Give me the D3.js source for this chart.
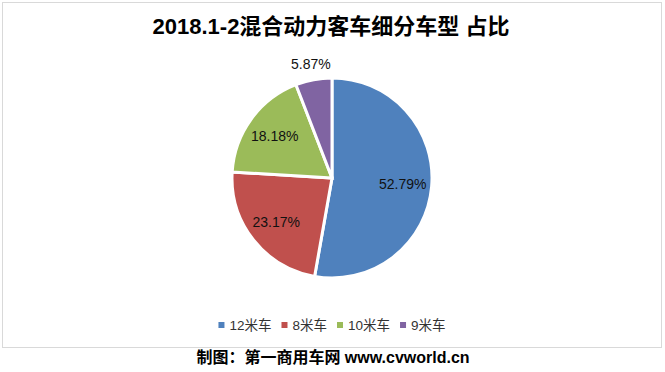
<!DOCTYPE html>
<html>
<head>
<meta charset="utf-8">
<script src="https://cdn.jsdelivr.net/npm/d3@7"></script>
<style>
  body { margin: 0; background: #fff; }
  svg { display: block; }
</style>
</head>
<body>
<div id="chart"></div>
<script>
// 2018.1-2 hybrid bus share by length

var categories = ['12米车', '8米车', '10米车', '9米车'];
var shares = [52.79, 23.17, 18.18, 5.87];
var colors = ['#4F81BD', '#C0504D', '#9BBB59', '#8064A2'];

var width = 665, height = 372;
var cx = 332, cy = 178, radius = 100;

var svg = d3.select("#chart")
  .append("svg")
    .attr("width", width)
    .attr("height", height);

// frame round the chart area
svg.append("rect")
  .attr("x", 2.5)
  .attr("y", 2.5)
  .attr("width", 659)
  .attr("height", 345)
  .attr("fill", "#fff")
  .attr("stroke", "#d9d9d9")
  .attr("stroke-width", 1);

svg.append("text")
  .attr("x", 331)
  .attr("y", 34)
  .attr("text-anchor", "middle")
  .style("font-family", "'Liberation Sans', 'Noto Sans CJK SC', sans-serif")
  .style("font-size", "22px")
  .style("font-weight", "bold")
  .attr("fill", "#000")
  .text("2018.1-2混合动力客车细分车型 占比");

var pie = d3.pie()
  .sort(null)
  .value(function(d) { return d; });

var arcs = pie(shares);

var arc = d3.arc()
  .innerRadius(0)
  .outerRadius(radius);

var labelArc = d3.arc()
  .innerRadius(radius * 0.71)
  .outerRadius(radius * 0.71);

var outerArc = d3.arc()
  .innerRadius(radius * 1.155)
  .outerRadius(radius * 1.155);

var g = svg.append("g")
  .attr("transform", "translate(" + cx + "," + cy + ")");

g.selectAll("path")
  .data(arcs)
  .enter()
  .append("path")
    .attr("d", arc)
    .attr("fill", function(d, i) { return colors[i]; })
    .attr("stroke", "#fff")
    .attr("stroke-width", 3)
    .attr("stroke-linejoin", "miter");

g.selectAll(".lbl")
  .data(arcs)
  .enter()
  .append("text")
    .attr("class", "lbl")
    .attr("transform", function(d) {
      var p = d.data < 10 ? outerArc.centroid(d) : labelArc.centroid(d);
      return "translate(" + p[0] + "," + p[1] + ")";
    })
    .attr("dy", "0.35em")
    .attr("text-anchor", "middle")
    .style("font-family", "'Liberation Sans', Arial, sans-serif")
    .style("font-size", "14px")
    .attr("fill", "#111")
    .text(function(d) { return d.data.toFixed(2) + "%"; });

// legend, centred under the pie
var legend = svg.append("g");
var lx = 0;
categories.forEach(function(c, i) {
  var item = legend.append("g").attr("transform", "translate(" + lx + ",0)");
  item.append("rect")
    .attr("x", 0)
    .attr("y", -3)
    .attr("width", 6)
    .attr("height", 6)
    .attr("fill", colors[i]);
  var t = item.append("text")
    .attr("x", 11)
    .attr("dy", "0.36em")
    .style("font-family", "'Liberation Sans', 'Noto Sans CJK SC', sans-serif")
    .style("font-size", "13.5px")
    .attr("fill", "#333")
    .text(c);
  lx += 11 + t.node().getComputedTextLength() + 10;
});
var legendW = lx - 10;
legend.attr("transform", "translate(" + (332 - legendW / 2) + ",325)");

svg.append("text")
  .attr("x", 333)
  .attr("y", 363)
  .attr("text-anchor", "middle")
  .style("font-family", "'Liberation Sans', 'Noto Sans CJK SC', sans-serif")
  .style("font-size", "16px")
  .style("font-weight", "bold")
  .attr("fill", "#000")
  .text("制图：第一商用车网 www.cvworld.cn");
</script>
</body>
</html>
